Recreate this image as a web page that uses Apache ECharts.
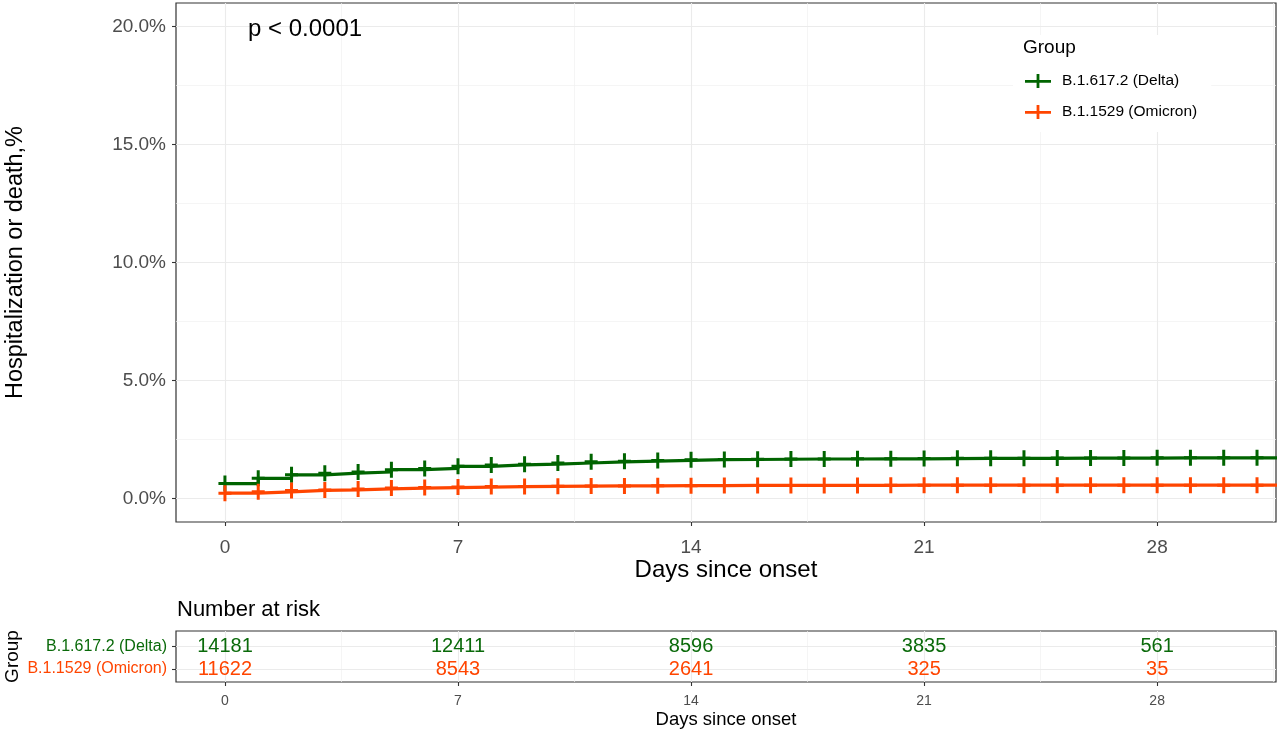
<!DOCTYPE html>
<html><head><meta charset="utf-8">
<script src="https://cdn.jsdelivr.net/npm/echarts@6/dist/echarts.min.js"></script>
<style>html,body{margin:0;padding:0;background:#fff}#c{width:1280px;height:733px}</style>
</head><body><div id="c"></div>
<script>
// ---- data ----
const groups = ['B.1.617.2 (Delta)', 'B.1.1529 (Omicron)'];
const days = [0,1,2,3,4,5,6,7,8,9,10,11,12,13,14,15,16,17,18,19,20,21,22,23,24,25,26,27,28,29,30,31];
const endOfFollowUp = 31.6;
const deltaPct = [0.63,0.85,1.00,1.07,1.12,1.22,1.27,1.36,1.42,1.45,1.50,1.55,1.58,1.61,1.64,1.65,1.66,1.67,1.67,1.68,1.68,1.69,1.70,1.70,1.70,1.71,1.71,1.71,1.72,1.72,1.72,1.72];
const omicronPct = [0.22,0.28,0.34,0.36,0.40,0.44,0.46,0.48,0.50,0.51,0.52,0.53,0.53,0.54,0.54,0.55,0.55,0.55,0.55,0.55,0.56,0.56,0.56,0.56,0.56,0.56,0.56,0.56,0.56,0.56,0.56,0.56];
const riskDays = [0,7,14,21,28];
const riskDelta = [14181,12411,8596,3835,561];
const riskOmicron = [11622,8543,2641,325,35];
const xTicks = [0,7,14,21,28];
const xMinor = [3.5,10.5,17.5,24.5,31.5];
const yTicks = [0,5,10,15,20];
const yMinor = [2.5,7.5,12.5,17.5];
const pValueText = 'p < 0.0001';

// ---- styles ----
const FONT = '"Liberation Sans", Arial, sans-serif';
const C_DELTA = '#006400', C_OMI = '#FF4500';
const T_DELTA = '#0a6a0a', T_OMI = '#FF4500';
const plusPath = 'path://M0,6.5h13v3h-13z M5,0h3v16h-3z';
const legendPath = 'path://M0,7h26v2.8h-26z M11.6,1h2.8v14h-2.8z';
const majorGrid = {color:'#ebebeb', width:1.1, type:'solid'};
const minorGrid = {color:'#f0f0f0', width:0.7, type:'solid'};

function curve(vals) {
  const d = days.map((t, i) => [t, vals[i]]);
  d.push({value:[endOfFollowUp, vals[vals.length-1]], symbol:'none'});
  return d;
}
function gridLines(hMajor, hMinor, vMajor, vMinor) {
  const out = [];
  hMinor.forEach(v => out.push({yAxis:v, lineStyle:minorGrid}));
  vMinor.forEach(v => out.push({xAxis:v, lineStyle:minorGrid}));
  hMajor.forEach(v => out.push({yAxis:v, lineStyle:majorGrid}));
  vMajor.forEach(v => out.push({xAxis:v, lineStyle:majorGrid}));
  return {silent:true, symbol:['none','none'], label:{show:false}, z:1, animation:false, emphasis:{disabled:true}, data:out};
}
function riskLabel(color) {
  return {show:true, position:'inside', formatter:p => String(p.value[2]), fontSize:20,
          color:color, opacity:1, textBorderWidth:0, textBorderColor:'transparent', fontFamily:FONT};
}

const chart = echarts.init(document.getElementById('c'), null, {renderer:'canvas'});
chart.setOption({
  animation:false,
  textStyle:{fontFamily:FONT},
  grid:[
    {left:176, top:3, right:4, height:519, show:true, borderColor:'#333', borderWidth:1.2,
     backgroundColor:'rgba(0,0,0,0)', containLabel:false, outerBoundsMode:'none'},
    {left:176, top:631, right:4, height:51, show:true, borderColor:'#333', borderWidth:1.2,
     backgroundColor:'rgba(0,0,0,0)', containLabel:false, outerBoundsMode:'none'}
  ],
  xAxis:[
    {type:'value', gridIndex:0, min:-1.47, max:31.57,
     axisLine:{show:false, onZero:false},
     axisTick:{show:true, customValues:xTicks, length:4, lineStyle:{color:'#333', width:1.1}},
     axisLabel:{customValues:xTicks, fontSize:19, color:'#4d4d4d', margin:16, fontFamily:FONT},
     splitLine:{show:false},
     name:'Days since onset', nameLocation:'middle', nameGap:36, nameMoveOverlap:false,
     nameTextStyle:{fontSize:24, color:'#000', fontFamily:FONT}},
    {type:'value', gridIndex:1, min:-1.47, max:31.57,
     axisLine:{show:false, onZero:false},
     axisTick:{show:true, customValues:xTicks, length:4, lineStyle:{color:'#333', width:1.1}},
     axisLabel:{customValues:xTicks, fontSize:14, color:'#4d4d4d', margin:12, fontFamily:FONT},
     splitLine:{show:false},
     name:'Days since onset', nameLocation:'middle', nameGap:28, nameMoveOverlap:false,
     nameTextStyle:{fontSize:18.5, color:'#000', fontFamily:FONT}}
  ],
  yAxis:[
    {type:'value', gridIndex:0, min:-1, max:21,
     axisLine:{show:false, onZero:false},
     axisTick:{show:true, customValues:yTicks, length:4, lineStyle:{color:'#333', width:1.1}},
     axisLabel:{customValues:yTicks, fontSize:19, color:'#4d4d4d', margin:10, fontFamily:FONT,
                formatter:v => v.toFixed(1) + '%'},
     splitLine:{show:false},
     name:'Hospitalization or death,%', nameLocation:'middle', nameGap:148, nameMoveOverlap:false,
     nameTextStyle:{fontSize:23.5, color:'#000', fontFamily:FONT}},
    {type:'value', gridIndex:1, min:0.3, max:2.58, inverse:true,
     axisLine:{show:false, onZero:false},
     axisTick:{show:true, customValues:[1,2], length:4, lineStyle:{color:'#333', width:1.1}},
     axisLabel:{customValues:[1,2], margin:9, fontFamily:FONT,
                formatter:v => v === 1 ? '{d|' + groups[0] + '}' : '{o|' + groups[1] + '}',
                rich:{d:{color:T_DELTA, fontSize:16, fontFamily:FONT}, o:{color:T_OMI, fontSize:16, fontFamily:FONT}}},
     splitLine:{show:false},
     name:'Group', nameLocation:'middle', nameGap:154, nameMoveOverlap:false,
     nameTextStyle:{fontSize:19, color:'#000', fontFamily:FONT}}
  ],
  legend:{
    orient:'vertical', left:1013, top:35, padding:[38,14,12,12],
    backgroundColor:'#fff', itemWidth:26, itemHeight:16, itemGap:15,
    textStyle:{fontSize:15.5, color:'#000', fontFamily:FONT, padding:[0,0,0,6]},
    selectedMode:false,
    data:[{name:groups[0], icon:legendPath, itemStyle:{color:C_DELTA}},
          {name:groups[1], icon:legendPath, itemStyle:{color:C_OMI}}]
  },
  graphic:[
    {type:'text', left:248, top:17, z:100, style:{text:pValueText, font:'24px ' + FONT, fill:'#000'}},
    {type:'text', left:1023, top:38, z:100, style:{text:'Group', font:'19px ' + FONT, fill:'#000'}},
    {type:'text', left:177, top:599, z:100, style:{text:'Number at risk', font:'22px ' + FONT, fill:'#000'}}
  ],
  series:[
    {name:groups[0], type:'line', xAxisIndex:0, yAxisIndex:0, step:'end', data:curve(deltaPct),
     symbol:plusPath, symbolSize:[13,16], showAllSymbol:true, z:3,
     itemStyle:{color:C_DELTA}, lineStyle:{color:C_DELTA, width:3.2},
     markLine:gridLines(yTicks, yMinor, xTicks, xMinor)},
    {name:groups[1], type:'line', xAxisIndex:0, yAxisIndex:0, step:'end', data:curve(omicronPct),
     symbol:plusPath, symbolSize:[13,16], showAllSymbol:true, z:3,
     itemStyle:{color:C_OMI}, lineStyle:{color:C_OMI, width:3.2}},
    {name:'riskDelta', type:'scatter', xAxisIndex:1, yAxisIndex:1, symbolSize:1,
     itemStyle:{color:T_DELTA, opacity:0},
     data:riskDays.map((d, i) => [d, 1, riskDelta[i]]),
     label:riskLabel(T_DELTA),
     markLine:gridLines([1,2], [], xTicks, xMinor)},
    {name:'riskOmicron', type:'scatter', xAxisIndex:1, yAxisIndex:1, symbolSize:1,
     itemStyle:{color:T_OMI, opacity:0},
     data:riskDays.map((d, i) => [d, 2, riskOmicron[i]]),
     label:riskLabel(T_OMI)}
  ]
});
</script></body></html>
